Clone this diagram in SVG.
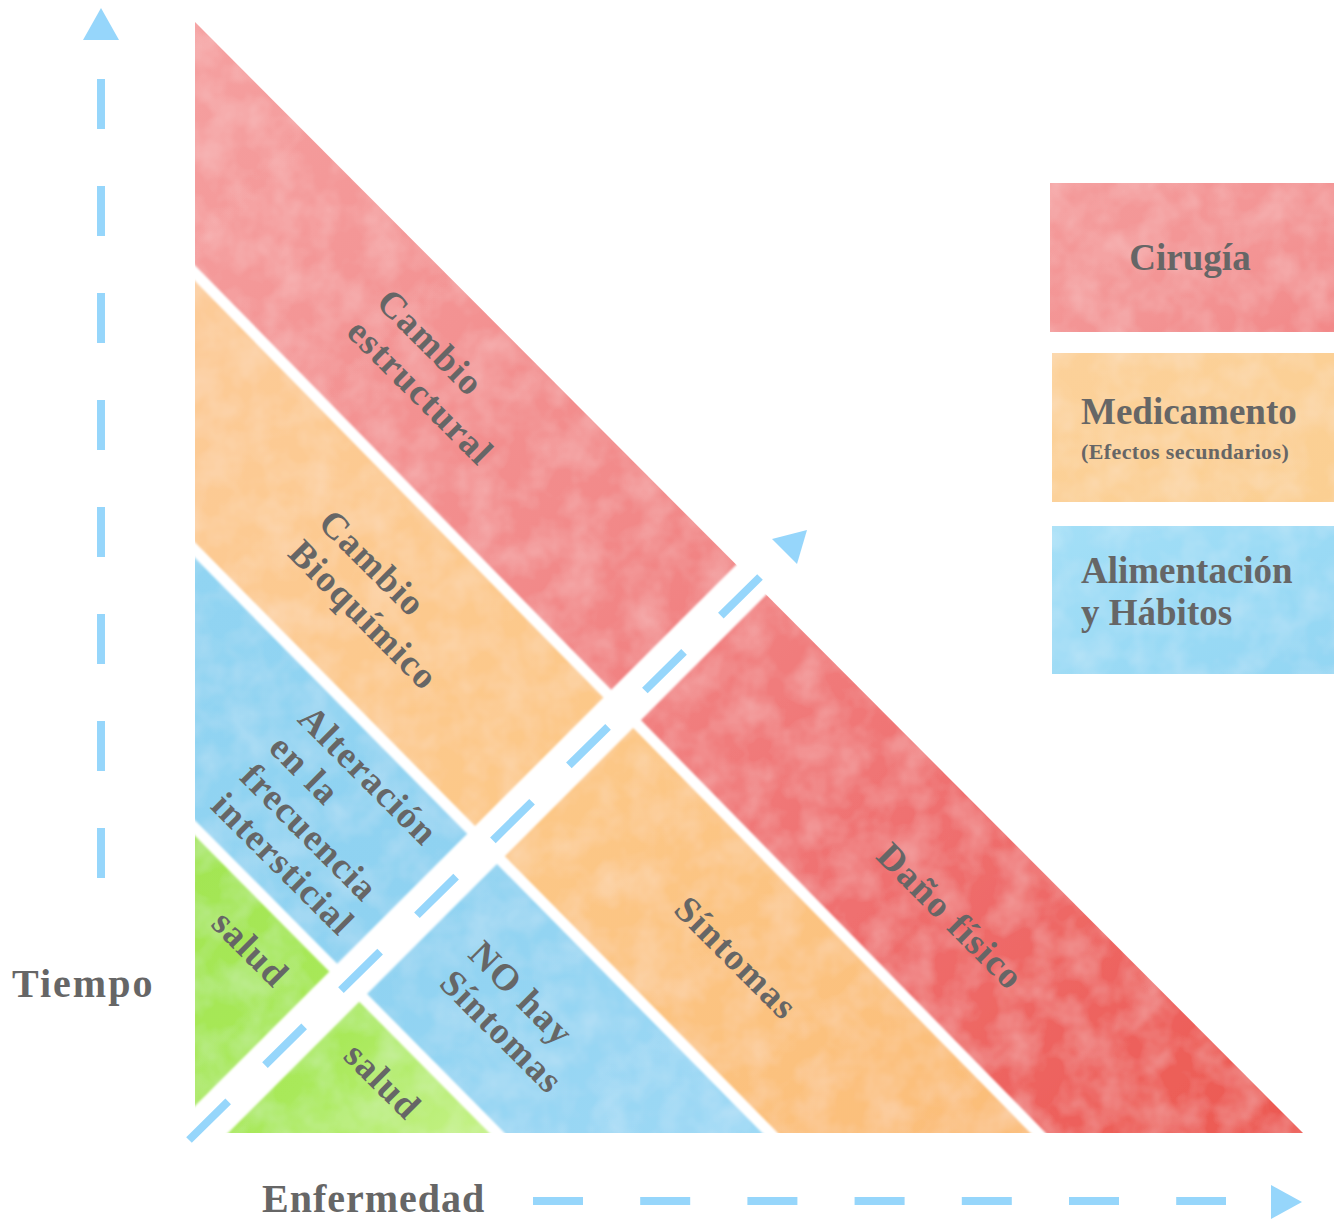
<svg xmlns="http://www.w3.org/2000/svg" width="1334" height="1220" viewBox="0 0 1334 1220">
<defs>
  <style>
    .lbl{font-family:"Liberation Serif","Times New Roman",serif;font-weight:bold;fill:#666666;}
    .band{font-size:37px;letter-spacing:1.3px;}
    .leg{font-size:37px;}
    .axis{fill:none;stroke:#96d6fb;stroke-width:8;}
    .arrow{fill:#96d6fb;}
    .sep{stroke:#ffffff;stroke-width:11;fill:none;}
  </style>
  <linearGradient id="gRed" x1="195" y1="22" x2="1303" y2="1133" gradientUnits="userSpaceOnUse">
    <stop offset="0" stop-color="#f5a0a0"/>
    <stop offset="0.4" stop-color="#f28a8a"/>
    <stop offset="0.7" stop-color="#ef6f6f"/>
    <stop offset="1" stop-color="#ec5850"/>
  </linearGradient>
  <linearGradient id="gOrange" x1="195" y1="273" x2="1038" y2="1133" gradientUnits="userSpaceOnUse">
    <stop offset="0" stop-color="#fccb98"/>
    <stop offset="0.5" stop-color="#fcc888"/>
    <stop offset="1" stop-color="#fbbd78"/>
  </linearGradient>
  <linearGradient id="gBlue" x1="195" y1="550" x2="770" y2="1133" gradientUnits="userSpaceOnUse">
    <stop offset="0" stop-color="#91d4f2"/>
    <stop offset="0.5" stop-color="#8fd2f1"/>
    <stop offset="1" stop-color="#9ed9f5"/>
  </linearGradient>
  <linearGradient id="gGreen" x1="195" y1="828" x2="497" y2="1133" gradientUnits="userSpaceOnUse">
    <stop offset="0" stop-color="#a2e552"/>
    <stop offset="0.6" stop-color="#a9e95a"/>
    <stop offset="1" stop-color="#c6f28a"/>
  </linearGradient>
  <linearGradient id="gLegRed" x1="0" y1="0" x2="1" y2="1">
    <stop offset="0" stop-color="#f49a9a"/>
    <stop offset="0.6" stop-color="#f39494"/>
    <stop offset="1" stop-color="#f28888"/>
  </linearGradient>
  <linearGradient id="gLegOrange" x1="0" y1="0" x2="1" y2="1">
    <stop offset="0" stop-color="#fcd19a"/>
    <stop offset="1" stop-color="#fbcf92"/>
  </linearGradient>
  <linearGradient id="gLegBlue" x1="0" y1="0" x2="1" y2="1">
    <stop offset="0" stop-color="#a3dff7"/>
    <stop offset="1" stop-color="#93d6f3"/>
  </linearGradient>
  <filter id="wc" x="0" y="0" width="100%" height="100%">
    <feTurbulence type="fractalNoise" baseFrequency="0.03" numOctaves="3" seed="4" result="n"/>
    <feColorMatrix in="n" type="matrix" values="0 0 0 0 1  0 0 0 0 1  0 0 0 0 1  0.35 0 0 0 -0.12" result="w"/>
    <feComposite in="w" in2="SourceGraphic" operator="in" result="wi"/>
    <feMerge><feMergeNode in="SourceGraphic"/><feMergeNode in="wi"/></feMerge>
  </filter>
  <filter id="soft" x="-5%" y="-5%" width="110%" height="110%">
    <feGaussianBlur stdDeviation="1.2"/>
  </filter>
</defs>
<rect width="1334" height="1220" fill="#ffffff"/>

<g id="bands" filter="url(#wc)">
  <polygon id="band-red" points="195,22 1303,1133 1038,1133 195,273" fill="url(#gRed)"/>
  <polygon id="band-orange" points="195,273 1038,1133 770,1133 195,550" fill="url(#gOrange)"/>
  <polygon id="band-blue" points="195,550 770,1133 497,1133 195,828" fill="url(#gBlue)"/>
  <polygon id="band-green" points="195,828 497,1133 195,1133" fill="url(#gGreen)"/>
</g>
<g id="separators" filter="url(#soft)">
  <line class="sep" x1="185" y1="263" x2="1048" y2="1143"/>
  <line class="sep" x1="185" y1="540" x2="780" y2="1143"/>
  <line class="sep" x1="185" y1="818" x2="507" y2="1143"/>
  <polygon points="150,1151 210,1151 800,561 740,561" fill="#ffffff"/>
</g>

<g id="connectors">
  <line class="axis" x1="101" y1="79" x2="101" y2="878" stroke-dasharray="50 57"/>
  <polygon class="arrow" points="83,40 119,40 101,8"/>
  <line class="axis" x1="533" y1="1201" x2="1226" y2="1201" stroke-dasharray="50 57.2"/>
  <polygon class="arrow" points="1271,1185 1271,1219 1302,1202"/>
  <line class="axis" x1="189" y1="1140" x2="760" y2="577" stroke-dasharray="55 51.7"/>
  <polygon class="arrow" points="772,539 807,530 797,564"/>
</g>

<g id="band-labels" class="lbl band" transform="rotate(45)">
  <g id="n-estructural">
    <text x="480" y="-50">Cambio</text>
    <text x="480" y="-8">estructural</text>
  </g>
  <g id="n-bioquimico">
    <text x="595" y="147">Cambio</text>
    <text x="595" y="190">Bioquímico</text>
  </g>
  <g id="n-alteracion">
    <text x="719" y="300">Alteración</text>
    <text x="719" y="341">en la</text>
    <text x="719" y="382">frecuencia</text>
    <text x="719" y="423">intersticial</text>
  </g>
  <g id="n-salud1"><text x="848" y="506" text-anchor="middle">salud</text></g>
  <g id="n-salud2"><text x="1035" y="506" text-anchor="middle">salud</text></g>
  <g id="n-nohay">
    <text x="1006" y="346">NO hay</text>
    <text x="1006" y="387">Síntomas</text>
  </g>
  <g id="n-sintomas"><text x="1198" y="169" text-anchor="middle">Síntomas</text></g>
  <g id="n-dano"><text x="1320" y="-12" text-anchor="middle">Daño físico</text></g>
</g>

<g id="axis-labels" class="lbl">
  <text id="n-tiempo" x="12" y="997" font-size="40" letter-spacing="2">Tiempo</text>
  <text id="n-enfermedad" x="262" y="1212" font-size="40" letter-spacing="1">Enfermedad</text>
</g>

<g id="legend">
  <g id="leg-cirugia">
    <rect x="1050" y="183" width="284" height="149" fill="url(#gLegRed)" filter="url(#wc)"/>
    <text class="lbl leg" x="1190" y="270" text-anchor="middle">Cirugía</text>
  </g>
  <g id="leg-medicamento">
    <rect x="1052" y="353" width="282" height="149" fill="url(#gLegOrange)" filter="url(#wc)"/>
    <text class="lbl leg" x="1081" y="424">Medicamento</text>
    <text class="lbl" x="1081" y="459" font-size="22" letter-spacing="0.4">(Efectos secundarios)</text>
  </g>
  <g id="leg-alimentacion">
    <rect x="1052" y="526" width="282" height="148" fill="url(#gLegBlue)" filter="url(#wc)"/>
    <text class="lbl leg" x="1081" y="583">Alimentación</text>
    <text class="lbl leg" x="1081" y="625">y Hábitos</text>
  </g>
</g>
</svg>
